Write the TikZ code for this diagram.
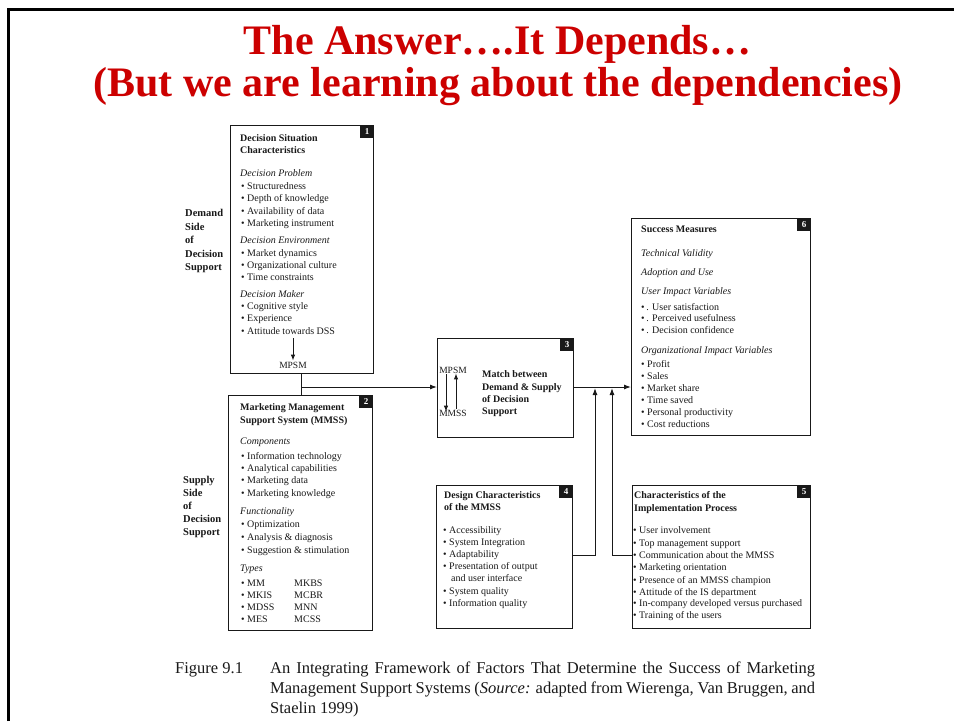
\documentclass[tikz,border=0pt]{standalone}
\usepackage{fontspec}
\setmainfont{Liberation Serif}
\usetikzlibrary{arrows.meta}
\definecolor{titlered}{RGB}{204,0,0}
\definecolor{ink}{RGB}{25,25,25}
\tikzset{
  panel/.style={draw=ink, line width=1.3pt, inner sep=0pt, anchor=north west},
  badge/.style={fill=ink, text=white, inner sep=0pt, minimum width=14pt, minimum height=13pt,
    font=\fontsize{9}{9}\selectfont\bfseries, anchor=north east},
  txt/.style={anchor=base west, inner sep=0pt, text=ink, font=\fontsize{10}{12}\selectfont},
  head/.style={txt, font=\fontsize{10}{12}\selectfont\bfseries},
  sub/.style={txt, font=\fontsize{10}{12}\selectfont\itshape},
  side/.style={txt, font=\fontsize{10.5}{12}\selectfont\bfseries},
  tag/.style={inner sep=1pt, text=ink, font=\fontsize{9.5}{10}\selectfont},
  link/.style={draw=ink, line width=1pt},
  tip/.style={-{Latex[length=7pt,width=5pt]}},
  smalltip/.style={-{Latex[length=6pt,width=4.5pt]}},
  titletxt/.style={anchor=base, inner sep=0pt, text=titlered, font=\fontsize{42}{42}\selectfont\bfseries},
  captxt/.style={anchor=base west, inner sep=0pt, text=ink, font=\fontsize{16.5}{20}\selectfont},
}
\begin{document}
\begin{tikzpicture}[x=1pt, y=-1pt]
\useasboundingbox (0,0) rectangle (954,721);
\fill[white] (0,0) rectangle (954,721);
% slide frame
\draw[line width=3pt, black] (8.5,721) -- (8.5,9.5) -- (954,9.5);

% title
\node[titletxt] (title1) at (497.5,54) {The Answer….It Depends…};
\node[titletxt] (title2) at (498,96) {(But we are learning about the dependencies)};

% panels
\node[panel, minimum width=143pt, minimum height=248pt] (b1) at (230,125) {};
\node[panel, minimum width=144pt, minimum height=235pt] (b2) at (228,395) {};
\node[panel, minimum width=136pt, minimum height=99pt]  (b3) at (437,338) {};
\node[panel, minimum width=136pt, minimum height=143pt] (b4) at (436,485) {};
\node[panel, minimum width=178pt, minimum height=143pt] (b5) at (632,485) {};
\node[panel, minimum width=179pt, minimum height=217pt] (b6) at (631,218) {};

% number badges
\node[badge] (n1) at (b1.north east) {1};
\node[badge] (n2) at (b2.north east) {2};
\node[badge] (n3) at (b3.north east) {3};
\node[badge] (n4) at (b4.north east) {4};
\node[badge] (n5) at (b5.north east) {5};
\node[badge] (n6) at (b6.north east) {6};

% side labels
\foreach \p/\q [count=\i] in {216.5/Demand, 230/Side, 243.5/of, 257/Decision, 270.5/Support}
  \node[side] (dem\i) at (185,\p) {\q};
\foreach \p/\q [count=\i] in {483.5/Supply, 496/Side, 509.5/of, 522.5/Decision, 535.5/Support}
  \node[side] (sup\i) at (183,\p) {\q};

% panel 1: decision situation
\node[head] (h1a) at (240,141) {Decision Situation};
\node[head] (h1b) at (240,153.5) {Characteristics};
\node[sub] (s1a) at (240,176.5) {Decision Problem};
\foreach \p/\q [count=\i] in {189/Structuredness, 201.5/Depth of knowledge, 214/Availability of data, 226.5/Marketing instrument}
  \node[txt] (p1a\i) at (241,\p) {• \q};
\node[sub] (s1b) at (240,243.5) {Decision Environment};
\foreach \p/\q [count=\i] in {256.5/Market dynamics, 268.5/Organizational culture, 280.5/Time constraints}
  \node[txt] (p1b\i) at (241,\p) {• \q};
\node[sub] (s1c) at (240,297.5) {Decision Maker};
\foreach \p/\q [count=\i] in {309.5/Cognitive style, 321.5/Experience, 334.5/Attitude towards DSS}
  \node[txt] (p1c\i) at (241,\p) {• \q};
\coordinate (a1) at (293,338);
\node[tag] (mp1) at (293,365) {MPSM};
\draw[link, smalltip] (a1) -- (mp1.north);

% panel 2: MMSS
\node[head] (h2a) at (240,410.5) {Marketing Management};
\node[head] (h2b) at (240,423.5) {Support System (MMSS)};
\node[sub] (s2a) at (240,444.5) {Components};
\foreach \p/\q [count=\i] in {459.5/Information technology, 471.5/Analytical capabilities, 483.5/Marketing data, 496/Marketing knowledge}
  \node[txt] (p2a\i) at (241,\p) {• \q};
\node[sub] (s2b) at (240,514.5) {Functionality};
\foreach \p/\q [count=\i] in {527.5/Optimization, 540.5/Analysis \& diagnosis, 553.5/Suggestion \& stimulation}
  \node[txt] (p2b\i) at (241,\p) {• \q};
\node[sub] (s2c) at (240,571.5) {Types};
\foreach \p/\a/\b [count=\i] in {586.5/MM/MKBS, 598.5/MKIS/MCBR, 610.5/MDSS/MNN, 622.5/MES/MCSS} {
  \node[txt] (ty\i a) at (241,\p) {• \a};
  \node[txt] (ty\i b) at (294,\p) {\b};
}

% panel 3: match
\node[tag] (mp3) at (453,370) {MPSM};
\node[tag] (ms3) at (453,413) {MMSS};
\draw[link, smalltip] (mp3.south -| 446,0) -- ([yshift=-3pt]ms3.north -| 446,0);
\draw[link, smalltip] (ms3.north -| 456,0) -- ([yshift=1pt]mp3.south -| 456,0);
\foreach \p/\q [count=\i] in {377.5/Match between, 390/Demand \& Supply, 402/of Decision, 414/Support}
  \node[head] (m3\i) at (482,\p) {\q};

% panel 4: design characteristics
\node[head] (h4a) at (444,498.5) {Design Characteristics};
\node[head] (h4b) at (444,510.5) {of the MMSS};
\foreach \p/\q [count=\i] in {533.5/Accessibility, 545.5/System Integration, 557.5/Adaptability, 569.5/Presentation of output}
  \node[txt] (p4a\i) at (443,\p) {• \q};
\node[txt] (p4b) at (451,581.5) {and user interface};
\foreach \p/\q [count=\i] in {594.5/System quality, 606.5/Information quality}
  \node[txt] (p4c\i) at (443,\p) {• \q};

% panel 5: implementation process
\node[head] (h5a) at (634,498.5) {Characteristics of the};
\node[head] (h5b) at (634,511.5) {Implementation Process};
\foreach \p/\q [count=\i] in {533.5/User involvement, 546/Top management support, 558.5/Communication about the MMSS,
  570.5/Marketing orientation, 583/Presence of an MMSS champion, 595/Attitude of the IS department,
  606.5/In-company developed versus purchased, 618.5/Training of the users}
  \node[txt] (p5\i) at (633,\p) {• \q};

% panel 6: success measures
\node[head] (h6) at (641,232.5) {Success Measures};
\node[sub] (s6a) at (641,256) {Technical Validity};
\node[sub] (s6b) at (641,275.5) {Adoption and Use};
\node[sub] (s6c) at (641,294) {User Impact Variables};
\foreach \p/\q [count=\i] in {310/User satisfaction, 321.5/Perceived usefulness, 333/Decision confidence}
  \node[txt] (p6a\i) at (641,\p) {•\,. \q};
\node[sub] (s6d) at (641,353) {Organizational Impact Variables};
\foreach \p/\q [count=\i] in {367/Profit, 379/Sales, 391.5/Market share, 403.5/Time saved, 415.5/Personal productivity, 427.5/Cost reductions}
  \node[txt] (p6b\i) at (641,\p) {• \q};

% connectors
\coordinate (j1) at (301,387);
\draw[link] (b1.south -| j1) -- (b2.north -| j1);
\draw[link, tip] (j1) -- (b3.west |- j1);
\draw[link, tip] (b3.east |- j1) -- (b6.west |- j1);
\coordinate (j4) at (595,555);
\coordinate (j5) at (612,555);
\coordinate (e4) at (595,388);
\coordinate (e5) at (612,388);
\draw[link, tip] (b4.east |- j4) -- (j4) -- (e4);
\draw[link, tip] (b5.west |- j5) -- (j5) -- (e5);

% caption
\node[captxt] (fig) at (175,673) {Figure 9.1};
\node[captxt] (cap1) at (270,673) {\makebox[545pt][s]{An Integrating Framework of Factors That Determine the Success of Marketing}};
\node[captxt] (cap2) at (270,693) {\makebox[545pt][s]{Management Support Systems (\textit{Source:} adapted from Wierenga, Van Bruggen, and}};
\node[captxt] (cap3) at (270,713) {Staelin 1999)};
\end{tikzpicture}
\end{document}
